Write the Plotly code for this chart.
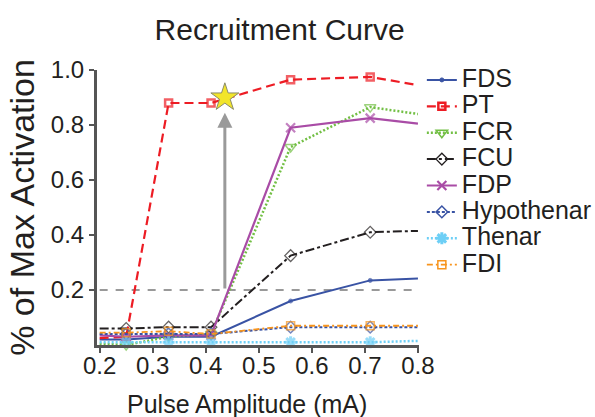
import plotly.graph_objects as go

# Pulse amplitudes (mA) at which each muscle was sampled
amplitude = [0.2, 0.25, 0.33, 0.41, 0.56, 0.71, 0.8]

# Normalised activation per muscle
muscles = ["FDS", "PT", "FCR", "FCU", "FDP", "Hypothenar", "Thenar", "FDI"]
fds = [0.02, 0.02, 0.03, 0.03, 0.16, 0.235, 0.242]
pt = [0.025, 0.03, 0.88, 0.88, 0.965, 0.975, 0.945]
fcr = [0.005, 0.0, 0.03, 0.04, 0.72, 0.865, 0.84]
fcu = [0.06, 0.06, 0.065, 0.065, 0.325, 0.41, 0.415]
fdp = [0.035, 0.03, 0.035, 0.035, 0.79, 0.825, 0.805]
hypothenar = [0.04, 0.04, 0.04, 0.04, 0.065, 0.065, 0.065]
thenar = [0.01, 0.01, 0.01, 0.01, 0.01, 0.01, 0.015]
fdi = [0.045, 0.045, 0.05, 0.04, 0.07, 0.07, 0.07]
series = [fds, pt, fcr, fcu, fdp, hypothenar, thenar, fdi]

# Selected stimulation point and threshold
star_amp, star_act = 0.436, 0.90
arrow_top = 0.845
threshold = 0.2

x_ticks = [0.2, 0.3, 0.4, 0.5, 0.6, 0.7, 0.8]
y_ticks = [0.2, 0.4, 0.6, 0.8, 1.0]

styles = {
    "FDS": dict(color="#3953a4", dash="solid", width=2, symbol="circle", size=4, mlw=1),
    "PT": dict(color="#ed1c24", dash="9px,5px", width=2.2, symbol="square-open", size=7, mlw=2.5),
    "FCR": dict(color="#72bf44", dash="2px,2px", width=2.5, symbol="triangle-down-open", size=10, mlw=1.5),
    "FCU": dict(color="#231f20", dash="9px,3px,3px,3px", width=2, symbol="diamond-open", size=9, mlw=1.3),
    "FDP": dict(color="#a94ca6", dash="solid", width=2.2, symbol="x-thin-open", size=9, mlw=2.2),
    "Hypothenar": dict(color="#3953a4", dash="3px,2px", width=2, symbol="diamond-open", size=9, mlw=1.5),
    "Thenar": dict(color="#6dcff6", dash="2px,2px", width=2.5, symbol="asterisk-open", size=10, mlw=3),
    "FDI": dict(color="#f7941d", dash="6px,3px,2px,3px", width=1.8, symbol="square-open", size=8, mlw=1.5),
}

fig = go.Figure()

n = len(amplitude)
for name, vals in zip(muscles, series):
    s = styles[name]
    # markers only at the interior sampled amplitudes
    sizes = [0] + [s["size"]] * (n - 2) + [0]
    fig.add_trace(go.Scatter(
        x=amplitude, y=vals, mode="lines+markers", name=name,
        legendgroup=name, showlegend=False, cliponaxis=False,
        line=dict(color=s["color"], dash=s["dash"], width=s["width"]),
        marker=dict(symbol=s["symbol"], size=sizes, color=s["color"],
                    line=dict(color=s["color"], width=s["mlw"])),
    ))
    # legend entry
    fig.add_trace(go.Scatter(
        x=[None], y=[None], mode="lines+markers", legendgroup=name,
        name=f'<span style="font-size:25px">{name}</span>',
        line=dict(color=s["color"], dash=s["dash"], width=s["width"]),
        marker=dict(symbol=s["symbol"], size=s["size"], color=s["color"],
                    line=dict(color=s["color"], width=s["mlw"])),
    ))

# threshold line
fig.add_shape(type="line", xref="x", yref="y", x0=x_ticks[0], x1=x_ticks[-1],
              y0=threshold, y1=threshold, layer="below",
              line=dict(color="#999999", width=2, dash="8px,8px"))

# arrow pointing to the selected amplitude
fig.add_annotation(x=star_amp, y=arrow_top, ax=star_amp, ay=threshold,
                   xref="x", yref="y", axref="x", ayref="y", text="",
                   showarrow=True, arrowhead=2, arrowsize=1, arrowwidth=3,
                   arrowcolor="#9a9a9a", standoff=0, startstandoff=0)

fig.add_trace(go.Scatter(
    x=[star_amp], y=[star_act], mode="markers", showlegend=False, cliponaxis=False,
    marker=dict(symbol="star", size=21, color="#f2e52a",
                line=dict(color="#8a8a6a", width=1)),
))

# x-axis title
fig.add_annotation(text="Pulse Amplitude (mA)", xref="paper", yref="paper",
                   x=0.466, y=-0.215, xanchor="center", yanchor="middle",
                   showarrow=False, font=dict(size=25, color="#231f20"))

axis_font = dict(family="Liberation Sans, Arial, sans-serif", size=24, color="#231f20")

fig.update_layout(
    width=595, height=417,
    margin=dict(l=97, r=176, t=70, b=72, autoexpand=False),
    paper_bgcolor="white", plot_bgcolor="white",
    font=dict(family="Liberation Sans, Arial, sans-serif", color="#231f20"),
    title=dict(text="Recruitment Curve", x=0.47, xanchor="center", y=0.93, yanchor="middle",
               font=dict(size=30, color="#231f20")),
    legend=dict(xref="container", yref="container", x=0.709, y=0.852,
                xanchor="left", yanchor="top", maxheight=400,
                font=dict(size=18, color="#231f20"), bgcolor="rgba(0,0,0,0)",
                tracegroupgap=0, itemwidth=30),
    xaxis=dict(range=[0.195, 0.802], tickvals=x_ticks,
               ticktext=[f"{v:.1f}" for v in x_ticks],
               showgrid=False, zeroline=False, showline=True, linecolor="#555555",
               linewidth=3, ticks="outside", ticklen=5, tickwidth=2, tickcolor="#555555",
               ticklabelstandoff=-8, tickfont=axis_font),
    yaxis=dict(range=[0, 1.0], tickvals=y_ticks,
               ticktext=[f"{v:.1f}" for v in y_ticks],
               showgrid=False, zeroline=False, showline=True, linecolor="#555555",
               linewidth=3, ticks="outside", ticklen=5, tickwidth=2, tickcolor="#555555",
               tickfont=axis_font,
               title=dict(text="% of Max Activation", font=dict(size=34), standoff=6)),
)

fig.write_html("out.html")
